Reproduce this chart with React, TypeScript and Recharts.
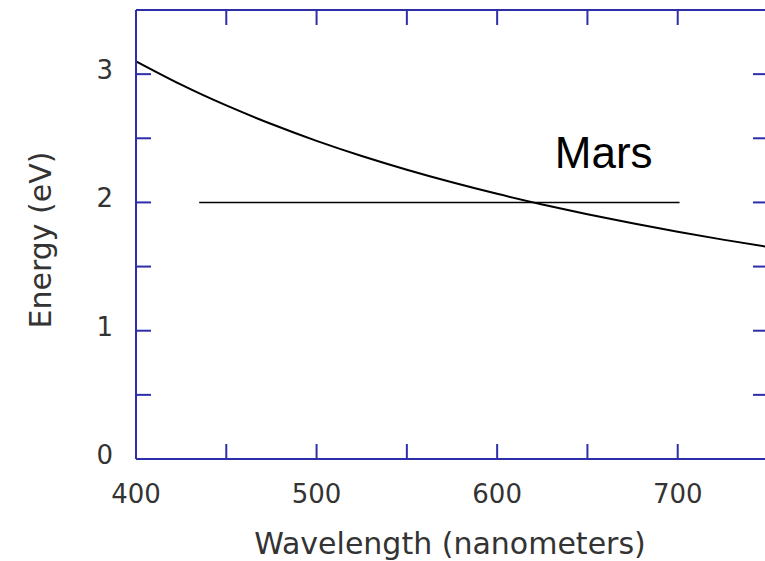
import React from 'react';
import { LineChart, Line, XAxis, YAxis, ReferenceLine, ReferenceDot } from 'recharts';

const wavelengths = [400, 425, 450, 475, 500, 525, 550, 575, 600, 625, 650, 675, 700, 725, 750];
const energies = [3.1, 2.918, 2.756, 2.611, 2.48, 2.362, 2.255, 2.157, 2.067, 1.984, 1.908, 1.837, 1.771, 1.71, 1.653];
const xTicks = [400, 450, 500, 550, 600, 650, 700, 750];
const yTicks = [0, 0.5, 1, 1.5, 2, 2.5, 3, 3.5];
const marsEnergy = 2;
const marsRange = [435, 701];
const marsLabel = 'Mars';
const marsLabelPos = { x: 659, y: 2.27 };

const data = wavelengths.map((w, i) => ({ w, e: energies[i] }));

const BLUE = '#2e2eaa';
const TEXT = '#333333';
const TICK_LEN = 15;

const BottomTick = (props: any) => {
  const { x, y, payload } = props;
  const major = payload.value % 100 === 0;
  return (
    <g>
      <line x1={x} y1={y} x2={x} y2={y - TICK_LEN} stroke={BLUE} strokeWidth={2} />
      {major && (
        <text x={x} y={y + 44} textAnchor="middle" fill={TEXT} fontFamily="DejaVu Sans" fontSize={26}>
          {payload.value}
        </text>
      )}
    </g>
  );
};

const TopTick = (props: any) => {
  const { x, y } = props;
  return <line x1={x} y1={y} x2={x} y2={y + TICK_LEN} stroke={BLUE} strokeWidth={2} />;
};

const LeftTick = (props: any) => {
  const { x, y, payload } = props;
  const major = payload.value % 1 === 0;
  return (
    <g>
      <line x1={x} y1={y} x2={x + TICK_LEN} y2={y} stroke={BLUE} strokeWidth={2} />
      {major && (
        <text x={x - 23} y={y + 5} textAnchor="end" fill={TEXT} fontFamily="DejaVu Sans" fontSize={26}>
          {payload.value}
        </text>
      )}
    </g>
  );
};

const RightTick = (props: any) => {
  const { x, y } = props;
  return <line x1={x} y1={y} x2={x - TICK_LEN} y2={y} stroke={BLUE} strokeWidth={2} />;
};

export default function App() {
  return (
    <div style={{ position: 'absolute', left: 0, top: 0, width: 765, height: 561, overflow: 'hidden', background: '#fff' }}>
      <LineChart width={780} height={561} data={data} margin={{ top: 9, right: 11, left: 0, bottom: 0 }}>
        <XAxis
          xAxisId="b"
          dataKey="w"
          type="number"
          domain={[400, 750]}
          ticks={xTicks}
          interval={0}
          height={102}
          tickSize={0}
          tickMargin={0}
          tickLine={false}
          tick={<BottomTick />}
          axisLine={{ stroke: BLUE, strokeWidth: 2 }}
          allowDataOverflow
          label={{
            content: () => (
              <text x={450} y={554} textAnchor="middle" fill={TEXT} fontFamily="DejaVu Sans" fontSize={30}>
                Wavelength (nanometers)
              </text>
            ),
          }}
        />
        <XAxis
          xAxisId="t"
          orientation="top"
          dataKey="w"
          type="number"
          domain={[400, 750]}
          ticks={xTicks}
          interval={0}
          height={1}
          tickSize={0}
          tickMargin={0}
          tickLine={false}
          tick={<TopTick />}
          axisLine={{ stroke: BLUE, strokeWidth: 2 }}
          allowDataOverflow
        />
        <YAxis
          yAxisId="l"
          type="number"
          domain={[0, 3.5]}
          ticks={yTicks}
          interval={0}
          width={136}
          tickSize={0}
          tickMargin={0}
          tickLine={false}
          tick={<LeftTick />}
          axisLine={{ stroke: BLUE, strokeWidth: 2 }}
          allowDataOverflow
          label={{
            content: () => (
              <text
                x={40}
                y={240}
                transform="rotate(-90 40 240)"
                textAnchor="middle"
                dominantBaseline="central"
                fill={TEXT}
                fontFamily="DejaVu Sans"
                fontSize={30}
              >
                Energy (eV)
              </text>
            ),
          }}
        />
        <YAxis
          yAxisId="r"
          orientation="right"
          type="number"
          domain={[0, 3.5]}
          ticks={yTicks}
          interval={0}
          width={1}
          tickSize={0}
          tickMargin={0}
          tickLine={false}
          tick={<RightTick />}
          axisLine={{ stroke: BLUE, strokeWidth: 2 }}
          allowDataOverflow
        />
        <ReferenceLine
          xAxisId="b"
          yAxisId="l"
          segment={[
            { x: marsRange[0], y: marsEnergy },
            { x: marsRange[1], y: marsEnergy },
          ]}
          stroke="#000"
          strokeWidth={1.5}
        />
        <Line
          xAxisId="b"
          yAxisId="l"
          type="natural"
          dataKey="e"
          stroke="#000"
          strokeWidth={2}
          dot={false}
          isAnimationActive={false}
        />
        <ReferenceDot
          xAxisId="b"
          yAxisId="l"
          x={marsLabelPos.x}
          y={marsLabelPos.y}
          r={0}
          fill="none"
          stroke="none"
          label={{
            content: (p: any) => {
              const vb = p.viewBox || {};
              const cx = (vb.x || 0) + (vb.width || 0) / 2;
              const cy = (vb.y || 0) + (vb.height || 0) / 2;
              return (
                <text x={cx} y={cy} textAnchor="middle" fill="#000" fontFamily="Liberation Sans" fontSize={44}>
                  {marsLabel}
                </text>
              );
            },
          }}
        />
      </LineChart>
    </div>
  );
}
